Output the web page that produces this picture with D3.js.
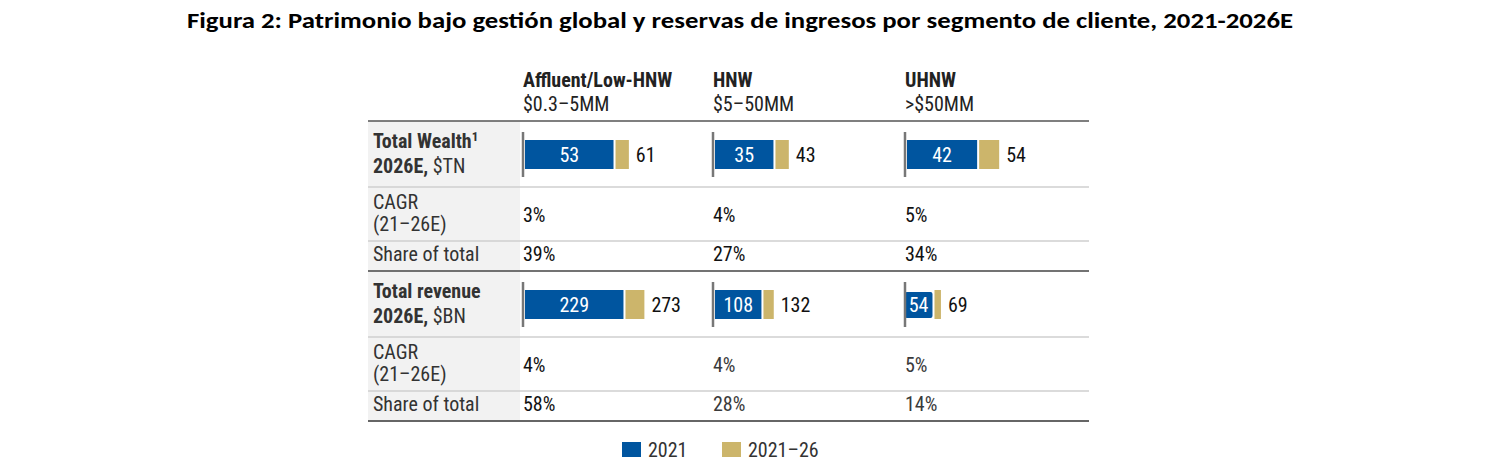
<!DOCTYPE html>
<html><head><meta charset="utf-8">
<script src="https://cdn.jsdelivr.net/npm/d3@7"></script>
<style>
html,body{margin:0;padding:0;background:#fff;}
svg{display:block;}
.t{font-family:'Roboto Condensed','Roboto',sans-serif;font-stretch:86%;}
.hb{font-stretch:90%;}
</style></head><body>
<svg id="c" width="1506" height="475"></svg>
<script>
// ---- data ----
const title = "Figura 2: Patrimonio bajo gestión global y reservas de ingresos por segmento de cliente, 2021-2026E";
const segments = ["Affluent/Low-HNW", "HNW", "UHNW"];
const segmentRanges = ["$0.3–5MM", "$5–50MM", ">$50MM"];
const wealth2021 = [53, 35, 42];
const wealth2026 = [61, 43, 54];
const wealthCagr = ["3%", "4%", "5%"];
const wealthShare = ["39%", "27%", "34%"];
const revenue2021 = [229, 108, 54];
const revenue2026 = [273, 132, 69];
const revenueCagr = ["4%", "4%", "5%"];
const revenueShare = ["58%", "28%", "14%"];
const legendLabels = ["2021", "2021–26"];

const BLUE = "#00559f", GOLD = "#ccb56b";
const FS = 20;
const svg = d3.select("#c");

// title
svg.append("text").attr("x", 740).attr("y", 28).attr("text-anchor", "middle")
  .attr("font-family", "Carlito, Calibri, 'Open Sans', sans-serif").attr("font-weight", 700)
  .style("font-stretch", "82%")
  .attr("font-size", 22).attr("fill", "#000")
  .attr("textLength", 1106).attr("lengthAdjust", "spacingAndGlyphs").text(title);

const L = 368, R = 1089, LC = 520;
const colX = d3.scaleOrdinal().domain(segments).range([523, 713, 905]);

// left grey column
svg.append("rect").attr("x", L).attr("y", 121).attr("width", LC - L).attr("height", 300).attr("fill", "#f2f2f2");

// headers
segments.forEach((s, i) => {
  svg.append("text").attr("class", "t hb").attr("x", colX(s)).attr("y", 87).attr("font-size", FS)
    .attr("font-weight", 700).attr("fill", "#222").text(s);
  svg.append("text").attr("class", "t").attr("x", colX(s)).attr("y", 111).attr("font-size", FS)
    .attr("fill", "#222").text(segmentRanges[i]);
});

// horizontal rules
const rules = [
  {y: 121, c: "#555", w: 1.6}, {y: 187, c: "#cfcfcf", w: 1.6}, {y: 241, c: "#cfcfcf", w: 1.6},
  {y: 271, c: "#444", w: 1.6}, {y: 337, c: "#cfcfcf", w: 1.6}, {y: 391, c: "#cfcfcf", w: 1.6},
  {y: 421, c: "#666", w: 2.2}
];
svg.selectAll("line.rule").data(rules).join("line").attr("class", "rule")
  .attr("x1", L).attr("x2", R).attr("y1", d => d.y).attr("y2", d => d.y)
  .attr("stroke", d => d.c).attr("stroke-width", d => d.w);

const wealthScale = d3.scaleLinear().domain([0, 100]).range([0, 167]);
const revScale = d3.scaleLinear().domain([0, 300]).range([0, 129]);

const blocks = [
  {top: 121, l1: "Total Wealth", sup: "1", l2: "2026E, $TN", v1: wealth2021, v2: wealth2026, sc: wealthScale,
   cagr: wealthCagr, share: wealthShare, dim: [false, false, false]},
  {top: 271, l1: "Total revenue", sup: "", l2: "2026E, $BN", v1: revenue2021, v2: revenue2026, sc: revScale,
   cagr: revenueCagr, share: revenueShare, dim: [false, true, true]}
];

blocks.forEach(b => {
  const g = svg.append("g").attr("transform", `translate(0,${b.top - 121})`);
  const t1 = g.append("text").attr("class", "t hb").attr("x", 373).attr("y", 148).attr("font-size", FS)
    .attr("font-weight", 700).attr("fill", "#333").text(b.l1);
  if (b.sup) t1.append("tspan").attr("font-size", 13).attr("dy", -7).text(b.sup);
  const t2 = g.append("text").attr("class", "t").attr("x", 373).attr("y", 173).attr("font-size", FS).attr("fill", "#333");
  t2.append("tspan").attr("font-weight", 700).text(b.l2.split(", ")[0] + ",");
  t2.append("tspan").text(" " + b.l2.split(", ")[1]);
  g.append("text").attr("class", "t").attr("x", 373).attr("y", 209).attr("font-size", FS).attr("fill", "#333").text("CAGR");
  g.append("text").attr("class", "t").attr("x", 373).attr("y", 231).attr("font-size", FS).attr("fill", "#333").text("(21–26E)");
  g.append("text").attr("class", "t").attr("x", 373).attr("y", 261).attr("font-size", FS).attr("fill", "#333").text("Share of total");

  segments.forEach((s, i) => {
    const x0 = colX(s);
    const bx = x0 + 2, by = 140, bh = 29;
    const w1 = b.sc(b.v1[i]);
    const w2 = b.sc(b.v2[i]) - b.sc(b.v1[i]);
    const lab = g.append("text").attr("class", "t").attr("font-size", FS).attr("fill", "#fff")
      .attr("text-anchor", "middle").text(b.v1[i]);
    const lw = lab.node().getComputedTextLength();
    let rx = bx, rw = w1, ry = by, rh = bh;
    if (lw + 8 > w1) { rw = lw + 8; rx = bx + w1 / 2 - rw / 2; ry = by + 2; rh = bh - 3; }
    g.insert("rect", "text").attr("x", rx).attr("y", ry).attr("width", rw).attr("height", rh)
      .attr("fill", BLUE).attr("rx", rw > w1 ? 2 : 0);
    lab.attr("x", rx + rw / 2).attr("y", by + 22);
    const gx = Math.max(bx + w1, rx + rw) + 2;
    g.append("rect").attr("x", gx).attr("y", by).attr("width", w2).attr("height", bh).attr("fill", GOLD);
    g.append("text").attr("class", "t").attr("x", gx + w2 + 7).attr("y", by + 22).attr("font-size", FS)
      .attr("fill", "#111").text(b.v2[i]);
    g.append("line").attr("x1", x0).attr("x2", x0).attr("y1", 132).attr("y2", 177)
      .attr("stroke", "#777").attr("stroke-width", 2.5);
    const vc = b.dim[i] ? "#3a3a3a" : "#111";
    g.append("text").attr("class", "t").attr("x", x0).attr("y", 222).attr("font-size", FS).attr("fill", vc).text(b.cagr[i]);
    g.append("text").attr("class", "t").attr("x", x0).attr("y", 261).attr("font-size", FS).attr("fill", vc).text(b.share[i]);
  });
});

// legend
const leg = svg.append("g");
const legX = [622, 722], legC = [BLUE, GOLD];
legendLabels.forEach((l, i) => {
  leg.append("rect").attr("x", legX[i]).attr("y", 442).attr("width", 19).attr("height", 15).attr("fill", legC[i]);
  leg.append("text").attr("class", "t").attr("x", legX[i] + 26).attr("y", 457).attr("font-size", FS)
    .attr("fill", "#333").text(l);
});
</script>
</body></html>
